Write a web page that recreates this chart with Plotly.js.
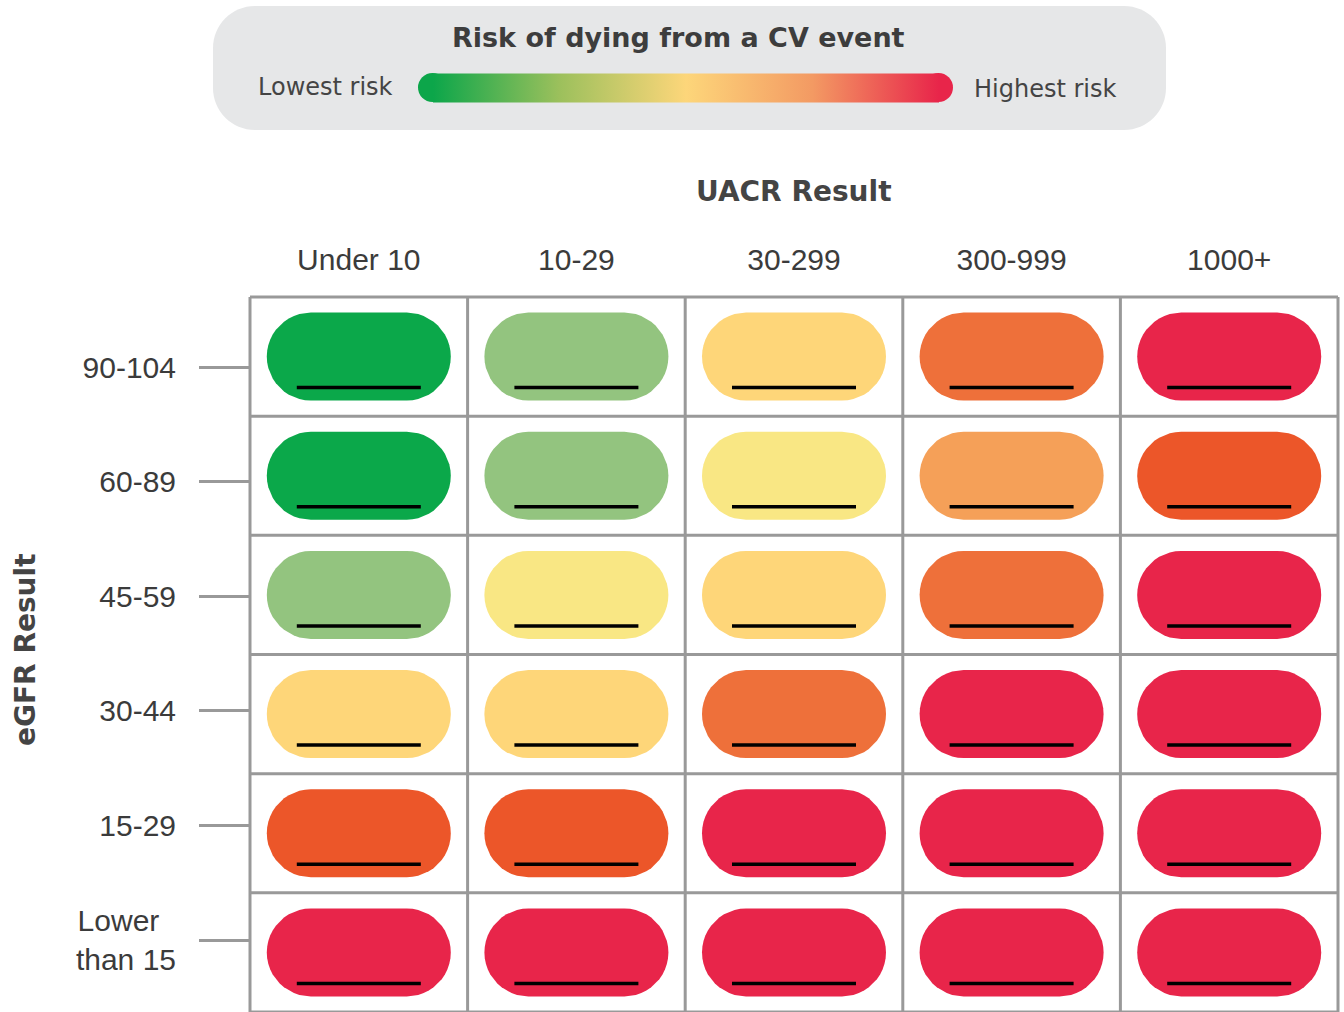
<!DOCTYPE html>
<html><head><meta charset="utf-8">
<script src="https://cdn.plot.ly/plotly-3.0.1.min.js"></script>
<style>html,body{margin:0;padding:0;background:#fff}#chart{width:1344px;height:1012px}</style>
</head><body><div id="chart"></div>
<script>
// ---------- data ----------
const uacrLabels = ['Under 10', '10-29', '30-299', '300-999', '1000+'];
const egfrLabels = ['90-104', '60-89', '45-59', '30-44', '15-29', 'Lower\u00a0\u00a0<br>than 15'];
// risk level per cell (1 = lowest, 8 = highest), rows top to bottom
const riskRow90 = [1, 2, 4, 6, 8];
const riskRow60 = [1, 2, 3, 5, 7];
const riskRow45 = [2, 3, 4, 6, 8];
const riskRow30 = [4, 4, 6, 8, 8];
const riskRow15 = [7, 7, 8, 8, 8];
const riskRowLow = [8, 8, 8, 8, 8];
const riskLevels = [riskRow90, riskRow60, riskRow45, riskRow30, riskRow15, riskRowLow];
const levelColors = ['#0ba84a', '#93c47f', '#f9e784', '#fed679', '#f5a058', '#ee703a', '#ec5629', '#e8254a'];
const legendStops = [0, 0.25, 0.5, 0.75, 1];
const legendColors = ['#0ca64a', '#9cc05c', '#fdd67a', '#f39a63', '#e8254a'];
const legendTitle = 'Risk of dying from a CV event';
const legendLow = 'Lowest risk';
const legendHigh = 'Highest risk';
const xTitle = 'UACR Result';
const yTitle = 'eGFR Result';

// ---------- layout geometry ----------
const W = 1344, H = 1012;
const M = {l: 250, r: 6, t: 297, b: 0};
const PW = W - M.l - M.r, PH = H - M.t - M.b;
const nC = uacrLabels.length, nR = egfrLabels.length;
const pxX = PW / nC, pxY = PH / nR;
const pillHalfW = 92, pillR = 44, lineHalf = 62, lineDrop = 31;
const px2paperX = p => (p - M.l) / PW;
const px2paperY = p => (H - M.b - p) / PH;

const traces = [];
const colorValues = [], cx = [], cy = [];
riskLevels.forEach((row, r) => {
  row.forEach((lvl, c) => {
    const xs = [], ys = [];
    const off = (pillHalfW - pillR) / pxX;
    for (let i = 0; i <= 24; i++) {
      const t = -Math.PI / 2 + Math.PI * i / 24;
      xs.push(c + off + pillR * Math.cos(t) / pxX);
      ys.push(r + pillR * Math.sin(t) / pxY);
    }
    for (let i = 0; i <= 24; i++) {
      const t = Math.PI / 2 + Math.PI * i / 24;
      xs.push(c - off + pillR * Math.cos(t) / pxX);
      ys.push(r + pillR * Math.sin(t) / pxY);
    }
    xs.push(xs[0]); ys.push(ys[0]);
    traces.push({
      type: 'scatter', mode: 'lines', x: xs, y: ys, fill: 'toself',
      fillcolor: levelColors[lvl - 1], line: {width: 0, color: levelColors[lvl - 1]},
      hoverinfo: 'skip', showlegend: false
    });
    colorValues.push(lvl); cx.push(c); cy.push(r);
  });
});

// underline marks
const ux = [], uy = [];
riskLevels.forEach((row, r) => row.forEach((lvl, c) => {
  ux.push(c - lineHalf / pxX, c + lineHalf / pxX, null);
  uy.push(r + lineDrop / pxY, r + lineDrop / pxY, null);
}));
traces.push({type: 'scatter', mode: 'lines', x: ux, y: uy, line: {color: '#000', width: 3.5},
  hoverinfo: 'skip', showlegend: false});

// colour-scale holder (gives the legend gradient bar)
const cscale = legendStops.map((s, i) => [s, legendColors[i]]);
traces.push({
  type: 'scatter', mode: 'markers', x: cx, y: cy, hoverinfo: 'skip', showlegend: false,
  marker: {size: 1, opacity: 0, color: colorValues, cmin: 1, cmax: 8, colorscale: cscale,
    showscale: true,
    colorbar: {orientation: 'h', x: px2paperX((418 + 953) / 2), xanchor: 'center',
      y: px2paperY(87.5), yanchor: 'middle', len: 535 - 29, lenmode: 'pixels',
      thickness: 29, thicknessmode: 'pixels', outlinewidth: 0, showticklabels: false,
      ticks: '', xpad: 0, ypad: 0, borderwidth: 0, bgcolor: 'rgba(0,0,0,0)'}}
});
// empty trace to register the tick axis
traces.push({type: 'scatter', x: [], y: [], yaxis: 'y2', showlegend: false, hoverinfo: 'skip'});

// ---------- shapes ----------
const shapes = [];
const gridColor = '#999999';
for (let i = 0; i <= nC; i++) {
  shapes.push({type: 'line', xref: 'paper', yref: 'paper', x0: i / nC, x1: i / nC, y0: 0, y1: 1,
    line: {color: gridColor, width: 3}, layer: 'below'});
}
for (let j = 0; j <= nR; j++) {
  shapes.push({type: 'line', xref: 'paper', yref: 'paper', x0: 0, x1: 1, y0: 1 - j / nR, y1: 1 - j / nR,
    line: {color: gridColor, width: 3}, layer: 'below'});
}
// legend box (rounded)
function roundRect(x0, y0, x1, y1, rad) {
  const k = 0.5523 * rad;
  const X = px2paperX, Y = px2paperY;
  const p = (x, y) => X(x).toFixed(5) + ',' + Y(y).toFixed(5);
  return 'M' + p(x0 + rad, y0) + ' L' + p(x1 - rad, y0) +
    ' C' + p(x1 - rad + k, y0) + ' ' + p(x1, y0 + rad - k) + ' ' + p(x1, y0 + rad) +
    ' L' + p(x1, y1 - rad) +
    ' C' + p(x1, y1 - rad + k) + ' ' + p(x1 - rad + k, y1) + ' ' + p(x1 - rad, y1) +
    ' L' + p(x0 + rad, y1) +
    ' C' + p(x0 + rad - k, y1) + ' ' + p(x0, y1 - rad + k) + ' ' + p(x0, y1 - rad) +
    ' L' + p(x0, y0 + rad) +
    ' C' + p(x0, y0 + rad - k) + ' ' + p(x0 + rad - k, y0) + ' ' + p(x0 + rad, y0) + ' Z';
}
shapes.push({type: 'path', xref: 'paper', yref: 'paper', path: roundRect(213, 6, 1166, 130, 42),
  fillcolor: '#e6e7e8', line: {width: 0}, layer: 'below'});
// rounded ends of gradient bar
[[418 + 14.5, legendColors[0]], [953 - 14.5, legendColors[legendColors.length - 1]]].forEach(([px, col]) => {
  shapes.push({type: 'circle', xref: 'paper', yref: 'paper', xsizemode: 'pixel', ysizemode: 'pixel',
    xanchor: px2paperX(px), yanchor: px2paperY(87.5), x0: -14.5, x1: 14.5, y0: -14.5, y1: 14.5,
    fillcolor: col, line: {width: 0}, layer: 'above'});
});

const labelFont = {family: 'Liberation Sans, Arial, sans-serif', size: 30, color: '#3b3b3b'};
const titleFont = {family: 'DejaVu Sans, sans-serif', size: 28, color: '#444444', weight: 700};
const legFont = {family: 'DejaVu Sans, sans-serif', size: 24, color: '#444444'};

const layout = {
  width: W, height: H, margin: M, paper_bgcolor: '#fff', plot_bgcolor: '#fff', showlegend: false,
  xaxis: {range: [-0.5, nC - 0.5], side: 'top', tickmode: 'array', tickvals: uacrLabels.map((_, i) => i),
    ticktext: uacrLabels, ticks: 'outside', ticklen: 14, tickcolor: 'rgba(0,0,0,0)',
    showgrid: false, zeroline: false, showline: false, fixedrange: true, tickfont: labelFont},
  yaxis: {range: [nR - 0.5, -0.5], showticklabels: false, ticks: '', showgrid: false,
    zeroline: false, showline: false, fixedrange: true},
  yaxis2: {overlaying: 'y', side: 'left', range: [5.628, -0.611], tickmode: 'array',
    tickvals: egfrLabels.map((_, i) => i), ticktext: egfrLabels, ticks: 'outside', ticklen: 50,
    tickwidth: 3, tickcolor: gridColor, showgrid: false, zeroline: false, showline: false,
    fixedrange: true, tickfont: labelFont, ticklabelstandoff: 17},
  shapes: shapes,
  annotations: [
    {xref: 'paper', yref: 'paper', x: px2paperX(794), y: px2paperY(191), text: xTitle,
      showarrow: false, xanchor: 'center', yanchor: 'middle', font: titleFont},
    {xref: 'paper', yref: 'paper', x: px2paperX(25), y: px2paperY(650), text: yTitle,
      showarrow: false, xanchor: 'center', yanchor: 'middle', textangle: -90, font: titleFont},
    {xref: 'paper', yref: 'paper', x: px2paperX(678), y: px2paperY(37), text: legendTitle,
      showarrow: false, xanchor: 'center', yanchor: 'middle',
      font: {family: 'DejaVu Sans, sans-serif', size: 27, color: '#3d3d3d', weight: 700}},
    {xref: 'paper', yref: 'paper', x: px2paperX(395), y: px2paperY(87), text: legendLow,
      showarrow: false, xanchor: 'right', yanchor: 'middle', font: legFont},
    {xref: 'paper', yref: 'paper', x: px2paperX(972), y: px2paperY(89), text: legendHigh,
      showarrow: false, xanchor: 'left', yanchor: 'middle', font: legFont}
  ]
};

Plotly.newPlot('chart', traces, layout, {displayModeBar: false, staticPlot: true});
</script></body></html>
